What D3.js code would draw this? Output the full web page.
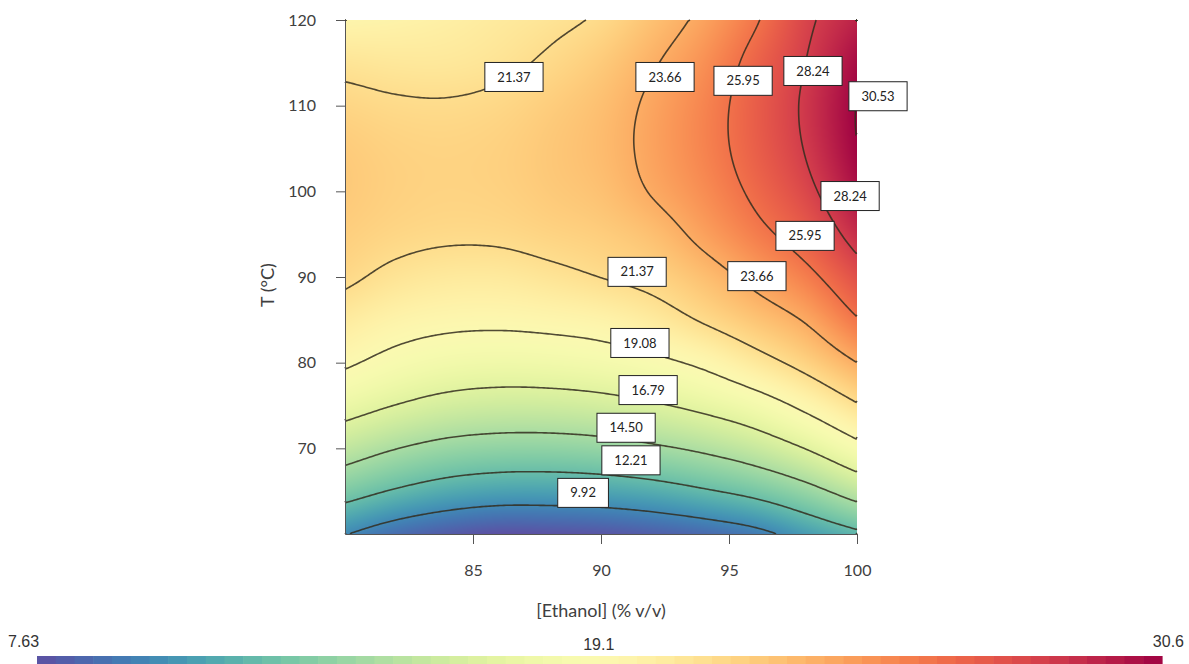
<!DOCTYPE html>
<html><head><meta charset="utf-8">
<script src="https://cdn.jsdelivr.net/npm/d3@7"></script>
<style>
body{margin:0;background:#fff;}
svg{display:block;}
</style>
</head><body>
<svg id="chart" width="1189" height="664"></svg>
<script>
// ---- data ----
const ethanol = [80, 82, 84, 86, 88, 90, 92, 94, 96, 98, 100];       // % v/v (columns)
const temperature = [60, 65, 70, 75, 80, 85, 90, 95, 100, 105, 110, 115, 120]; // °C (rows)
const r60  = [10.00, 8.85, 8.12, 7.70, 7.76, 7.90, 8.24, 8.70, 9.39, 10.68, 11.85];
const r65  = [12.99, 12.03, 11.33, 10.98, 10.95, 11.09, 11.43, 12.02, 12.75, 13.86, 15.35];
const r70  = [15.42, 14.54, 13.92, 13.65, 13.63, 13.82, 14.23, 14.80, 15.62, 16.84, 18.48];
const r75  = [17.53, 16.75, 16.17, 15.93, 15.95, 16.16, 16.60, 17.23, 18.13, 19.52, 21.21];
const r80  = [19.32, 18.52, 18.02, 17.85, 17.93, 18.19, 18.67, 19.43, 20.64, 21.97, 23.66];
const r85  = [20.53, 19.85, 19.51, 19.44, 19.60, 19.89, 20.53, 21.53, 22.62, 23.82, 25.82];
const r90  = [21.65, 20.99, 20.65, 20.63, 20.96, 21.39, 21.90, 22.88, 24.12, 25.45, 27.42];
const r95  = [22.15, 21.77, 21.58, 21.62, 21.91, 22.23, 22.88, 24.10, 25.43, 26.83, 28.90];
const r100 = [22.40, 22.05, 21.91, 22.01, 22.38, 22.81, 23.76, 24.86, 26.25, 27.79, 29.93];
const r105 = [22.30, 21.98, 21.88, 22.04, 22.48, 23.03, 24.05, 25.22, 26.69, 28.34, 30.49];
const r110 = [21.80, 21.55, 21.49, 21.71, 22.23, 22.88, 23.96, 25.18, 26.76, 28.50, 30.58];
const r115 = [20.95, 20.76, 20.75, 21.03, 21.61, 22.37, 23.50, 24.74, 26.47, 28.25, 30.21];
const r120 = [19.70, 19.90, 20.20, 20.60, 21.00, 21.60, 22.80, 24.05, 25.75, 27.90, 29.37];
const grid = [r60, r65, r70, r75, r80, r85, r90, r95, r100, r105, r110, r115, r120];

const levels = [9.92, 12.21, 14.50, 16.79, 19.08, 21.37, 23.66, 25.95, 28.24, 30.53];
const labelLevels = [21.37, 23.66, 25.95, 28.24, 30.53, 28.24, 25.95, 23.66, 21.37, 19.08, 16.79, 14.50, 12.21, 9.92];
const labelEthanol = [86.6, 92.5, 95.55, 98.28, 100.82, 99.73, 97.97, 96.09, 91.41, 91.52, 91.84, 90.98, 91.17, 89.30];
const labelTemp = [113.35, 113.35, 112.9, 114.05, 111.1, 99.45, 94.8, 90.1, 90.6, 82.3, 76.8, 72.4, 68.6, 64.8];

const xTicks = [85, 90, 95, 100];
const yTicks = [70, 80, 90, 100, 110, 120];
const colorDomain = [7.63, 30.6];
const colorbarLabels = ["7.63", "19.1", "30.6"];

// ---- scales ----
const svg = d3.select("#chart");
const X0 = 345, X1 = 857, Y0 = 20, Y1 = 534;
const x = d3.scaleLinear().domain([80, 100]).range([X0, X1]);
const y = d3.scaleLinear().domain([60, 120]).range([Y1, Y0]);
const color = d3.scaleSequential(t => d3.interpolateSpectral(1 - t)).domain(colorDomain);

// ---- smooth rendering of the read grid (Catmull-Rom) ----
const ni = temperature.length, nj = ethanol.length;
const dE = ethanol[1] - ethanol[0], dT = temperature[1] - temperature[0];
function gv(i, j) {
  if (i < 0) return 2 * gv(0, j) - gv(1, j);
  if (i >= ni) return 2 * gv(ni - 1, j) - gv(ni - 2, j);
  if (j < 0) return 2 * gv(i, 0) - gv(i, 1);
  if (j >= nj) return 2 * gv(i, nj - 1) - gv(i, nj - 2);
  return grid[i][j];
}
function cr(p0, p1, p2, p3, t) {
  return 0.5 * (2 * p1 + (-p0 + p2) * t + (2 * p0 - 5 * p1 + 4 * p2 - p3) * t * t + (-p0 + 3 * p1 - 3 * p2 + p3) * t * t * t);
}
function field(E, T) {
  const u = (E - ethanol[0]) / dE, v = (T - temperature[0]) / dT;
  let j = Math.max(0, Math.min(nj - 2, Math.floor(u)));
  let i = Math.max(0, Math.min(ni - 2, Math.floor(v)));
  const tu = u - j, tv = v - i;
  const r = [];
  for (let di = -1; di <= 2; di++) {
    r.push(cr(gv(i + di, j - 1), gv(i + di, j), gv(i + di, j + 1), gv(i + di, j + 2), tu));
  }
  return cr(r[0], r[1], r[2], r[3], tv);
}

// ---- heatmap ----
const W = X1 - X0, H = Y1 - Y0;
const canvas = document.createElement("canvas");
canvas.width = W; canvas.height = H;
const ctx = canvas.getContext("2d");
const img = ctx.createImageData(W, H);
for (let py = 0; py < H; py++) {
  const T = y.invert(Y0 + py + 0.5);
  for (let px = 0; px < W; px++) {
    const E = x.invert(X0 + px + 0.5);
    const c = d3.rgb(color(field(E, T)));
    const k = (py * W + px) * 4;
    img.data[k] = c.r; img.data[k + 1] = c.g; img.data[k + 2] = c.b; img.data[k + 3] = 255;
  }
}
ctx.putImageData(img, 0, 0);
svg.append("image").attr("x", X0).attr("y", Y0).attr("width", W).attr("height", H)
  .attr("preserveAspectRatio", "none").attr("href", canvas.toDataURL());

// ---- contour lines ----
const nx = 256, ny = 257;
const vals = new Float64Array(nx * ny);
for (let j = 0; j < ny; j++) for (let i = 0; i < nx; i++) {
  vals[j * nx + i] = field(80 + (i + 0.5) * 20 / nx, 120 - (j + 0.5) * 60 / ny);
}
const cs = d3.contours().size([nx, ny]).thresholds(levels)(vals);
const eps = 1e-6;
function bseg(a, b) {
  return (a[0] <= eps && b[0] <= eps) || (a[0] >= nx - eps && b[0] >= nx - eps) ||
         (a[1] <= eps && b[1] <= eps) || (a[1] >= ny - eps && b[1] >= ny - eps);
}
const polylines = [];
cs.forEach(c => {
  c.coordinates.forEach(poly => poly.forEach(ring => {
    const n = ring.length - 1;
    let k = -1;
    for (let s = 0; s < n; s++) if (bseg(ring[s], ring[s + 1])) { k = s; break; }
    if (k < 0) { polylines.push(ring.slice()); return; }
    let cur = [];
    for (let t = 1; t <= n; t++) {
      const s = (k + t) % n;
      const a = ring[s], b = ring[s + 1];
      if (bseg(a, b)) {
        if (cur.length > 1) polylines.push(cur);
        cur = [];
      } else {
        if (cur.length === 0) cur.push(a);
        cur.push(b);
      }
    }
    if (cur.length > 1) polylines.push(cur);
  }));
});
const line = d3.line()
  .x(p => x(80 + p[0] * 20 / nx))
  .y(p => y(120 - p[1] * 60 / ny));
svg.append("g").selectAll("path").data(polylines).join("path")
  .attr("d", line).attr("fill", "none")
  .attr("stroke", "rgba(50,45,30,0.85)").attr("stroke-width", 1.6);

// ---- axes ----
const fontMain = "Lato, 'Open Sans', sans-serif";
const yAxis = svg.append("g").attr("transform", `translate(${X0},0)`)
  .call(d3.axisLeft(y).tickValues(yTicks).tickSize(9).tickSizeOuter(0).tickPadding(20));
const xAxis = svg.append("g").attr("transform", `translate(0,${Y1})`)
  .call(d3.axisBottom(x).tickValues(xTicks).tickSize(10).tickSizeOuter(0).tickPadding(21));
[xAxis, yAxis].forEach(g => {
  g.select(".domain").attr("stroke", "#555");
  g.selectAll(".tick line").attr("stroke", "#555");
  g.selectAll(".tick text").attr("fill", "#404040").style("font-family", fontMain).style("font-size", "16px");
});

svg.append("text").attr("x", 601).attr("y", 617).attr("text-anchor", "middle")
  .style("font-family", fontMain).style("font-size", "18px").attr("fill", "#404040")
  .text("[Ethanol] (% v/v)");
svg.append("text").attr("transform", "translate(274,285) rotate(-90)").attr("text-anchor", "middle")
  .style("font-family", fontMain).style("font-size", "18px").attr("fill", "#404040")
  .text("T (°C)");

// ---- contour labels ----
const labG = svg.append("g");
labelLevels.forEach((lv, i) => {
  const g = labG.append("g").attr("transform", `translate(${x(labelEthanol[i])},${y(labelTemp[i])})`);
  const r = g.append("rect");
  const t = g.append("text").attr("text-anchor", "middle").attr("dy", "0.35em")
    .style("font-family", fontMain).style("font-size", "13px").attr("fill", "#222")
    .text(lv.toFixed(2));
  const w = t.node().getComputedTextLength() + 25;
  r.attr("x", -w / 2).attr("y", -14.5).attr("width", w).attr("height", 29)
    .attr("fill", "#fff").attr("stroke", "#222").attr("stroke-width", 1);
});

// ---- colorbar ----
const cbX0 = 37, cbX1 = 1162, cbY = 656, cbH = 9, steps = 60;
const cb = d3.scaleLinear().domain(colorDomain).range([cbX0, cbX1]);
const stepVals = d3.range(steps).map(k => colorDomain[0] + (k + 0.5) * (colorDomain[1] - colorDomain[0]) / steps);
svg.append("g").selectAll("rect").data(stepVals).join("rect")
  .attr("x", d => cb(d) - (cbX1 - cbX0) / steps / 2)
  .attr("y", cbY).attr("width", (cbX1 - cbX0) / steps + 0.6).attr("height", cbH)
  .attr("fill", d => color(d));
const cbFont = "'Liberation Sans Narrow', 'Arial Narrow', 'Liberation Sans', sans-serif";
svg.append("text").attr("x", 8).attr("y", 647).text(colorbarLabels[0])
  .style("font-family", cbFont).style("font-size", "16px").attr("fill", "#333");
svg.append("text").attr("x", cb(19.1)).attr("y", 650).attr("text-anchor", "middle").text(colorbarLabels[1])
  .style("font-family", cbFont).style("font-size", "16px").attr("fill", "#333");
svg.append("text").attr("x", 1184).attr("y", 647).attr("text-anchor", "end").text(colorbarLabels[2])
  .style("font-family", cbFont).style("font-size", "16px").attr("fill", "#333");
</script>
</body></html>
